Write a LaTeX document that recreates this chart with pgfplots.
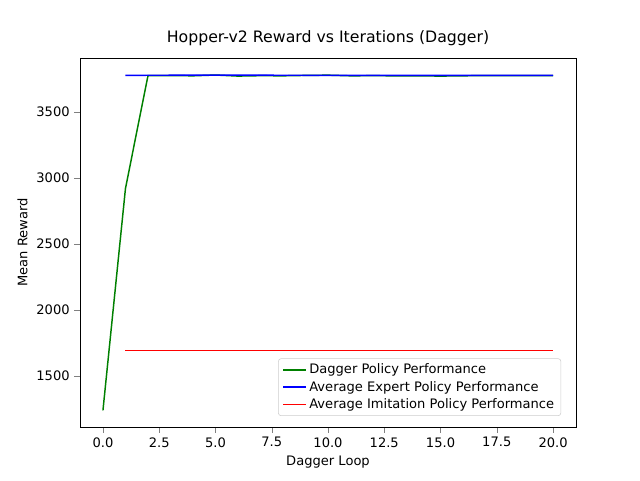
\documentclass[border=0pt]{standalone}
\usepackage{pgfplots}
\pgfplotsset{compat=1.18}
\usepackage{fontspec}
\setmainfont{DejaVu Sans}
\begin{document}
\fontsize{9.8}{12}\selectfont
\begin{tikzpicture}
\useasboundingbox (0,0) rectangle (480pt,360pt);
\begin{axis}[
  at={(60pt,39.75pt)}, anchor=south west,
  width=372pt, height=276.75pt, scale only axis,
  xmin=-1.02, xmax=21.02, ymin=1114, ymax=3909,
  xtick={0,2.5,...,20}, ytick={1500,2000,2500,3000,3500},
  xticklabel style={/pgf/number format/.cd,fixed,fixed zerofill,precision=1},
  yticklabel style={/pgf/number format/.cd,fixed,1000 sep={}},
  /pgf/number format/assume math mode=true,
  tick align=outside, xtick pos=bottom, ytick pos=left,
  title={\fontsize{11.8}{14}\selectfont Hopper-v2 Reward vs Iterations (Dagger)},
  xlabel={Dagger Loop}, ylabel={Mean Reward},
  legend pos=south east,
  legend style={font=\fontsize{9.8}{12}\selectfont, draw=black!20, rounded corners=2pt},
  legend cell align=left,
  every axis plot/.append style={line width=1.1pt},
]
\addplot[green!50!black] coordinates {(0,1240)(1,2920)(2,3775)(3,3776)(4,3774)(5,3780)(6,3772)(7,3775)(8,3774)(9,3777)(10,3779)(11,3774)(12,3775)(13,3774)(14,3774)(15,3772)(16,3774)(17,3776)(18,3775)(19,3776)(20,3776)};
\addlegendentry{Dagger Policy Performance}
\addplot[blue] coordinates {(1,3778)(5,3779)(10,3778)(15,3778)(20,3778)};
\addlegendentry{Average Expert Policy Performance}
\addplot[red] coordinates {(1,1695)(20,1695)};
\addlegendentry{Average Imitation Policy Performance}
\end{axis}
\end{tikzpicture}
\end{document}
